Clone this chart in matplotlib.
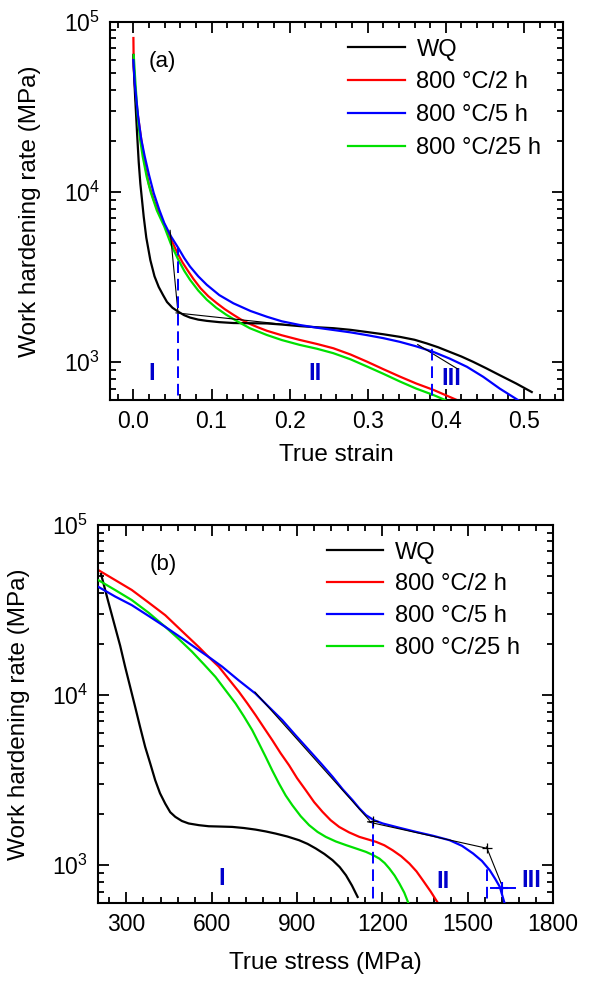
import math
import matplotlib
matplotlib.use("Agg")
import matplotlib.pyplot as plt
from matplotlib.ticker import LogLocator, MultipleLocator, FuncFormatter

plt.rcParams['font.family'] = ['Liberation Sans', 'DejaVu Sans']
plt.rcParams['mathtext.fontset'] = 'custom'
plt.rcParams['mathtext.rm'] = 'Liberation Sans'
plt.rcParams['mathtext.it'] = 'Liberation Sans:italic'
plt.rcParams['mathtext.bf'] = 'Liberation Sans:bold'

# ---------------- data: panel (a) work hardening rate vs true strain ----------------
labels = ["WQ", "800 °C/2 h", "800 °C/5 h", "800 °C/25 h"]
colors = ["#000000", "#ff0000", "#0000ff", "#00e000"]

a_wq_x = [0.000, 0.0004, 0.002, 0.0047, 0.0068, 0.0089, 0.011, 0.0132, 0.0165, 0.0217, 0.027, 0.0324,
          0.038, 0.043, 0.050, 0.0575, 0.065, 0.0725, 0.083, 0.094, 0.11, 0.128, 0.15, 0.171, 0.19,
          0.213, 0.235, 0.256, 0.278, 0.299, 0.32, 0.341, 0.36, 0.3755, 0.39, 0.405, 0.42, 0.435,
          0.452, 0.469, 0.49, 0.510]
a_wq_y = [64000, 54600, 38000, 22100, 15000, 11200, 9000, 7160, 5400, 3980, 3200, 2770,
          2480, 2260, 2090, 1980, 1890, 1830, 1780, 1750, 1720, 1700, 1695, 1690, 1665,
          1630, 1605, 1585, 1550, 1505, 1460, 1410, 1355, 1290, 1225, 1150, 1080, 1005,
          920, 839, 750, 668]

a_2h_x = [0.000, 0.0004, 0.003, 0.0089, 0.0152, 0.020, 0.026, 0.034, 0.043, 0.050, 0.0575, 0.063,
          0.069, 0.077, 0.086, 0.096, 0.107, 0.117, 0.128, 0.138, 0.149, 0.160, 0.171, 0.19, 0.213,
          0.235, 0.256, 0.278, 0.299, 0.32, 0.341, 0.362, 0.384, 0.414]
a_2h_y = [80500, 54800, 34900, 22200, 14200, 11000, 9020, 7300, 6000, 5050, 4280, 3850,
          3490, 3080, 2720, 2440, 2220, 2050, 1900, 1780, 1680, 1600, 1530, 1440, 1352,
          1280, 1208, 1110, 1008, 910, 824, 750, 688, 600]

a_5h_x = [0.000, 0.0017, 0.006, 0.010, 0.0145, 0.020, 0.026, 0.033, 0.0395, 0.048, 0.0575, 0.065,
          0.0725, 0.083, 0.094, 0.11, 0.128, 0.15, 0.171, 0.19, 0.213, 0.235, 0.256, 0.278, 0.299,
          0.32, 0.341, 0.362, 0.384, 0.405, 0.427, 0.448, 0.469, 0.496]
a_5h_y = [59700, 43700, 27900, 20500, 16200, 12600, 9870, 7900, 6580, 5500, 4690, 4100,
          3650, 3200, 2850, 2480, 2220, 2000, 1850, 1740, 1655, 1595, 1547, 1498, 1443,
          1385, 1318, 1240, 1150, 1050, 940, 820, 700, 585]

a_25h_x = [0.0004, 0.0026, 0.0055, 0.0085, 0.0119, 0.017, 0.0225, 0.030, 0.0395, 0.048, 0.0575,
           0.065, 0.0725, 0.083, 0.094, 0.106, 0.119, 0.134, 0.149, 0.171, 0.19, 0.213, 0.235,
           0.256, 0.278, 0.299, 0.32, 0.341, 0.362, 0.384, 0.399]
a_25h_y = [64000, 43700, 27900, 20500, 16200, 12300, 9870, 7800, 6280, 4950, 4000,
           3450, 3050, 2640, 2330, 2090, 1900, 1730, 1585, 1445, 1350, 1264, 1200,
           1130, 1040, 944, 855, 771, 700, 642, 600]

# tangent construction lines and stage boundaries (a)
a_tan1_x, a_tan1_y = [0.047, 0.0572], [5960, 1930]
a_tan2_x, a_tan2_y = [0.0546, 0.200], [1950, 1655]
a_tan3_x, a_tan3_y = [0.364, 0.415], [1270, 914]
a_bounds_x = [0.0575, 0.3825]
a_bounds_top = [4740, 1260]
a_stage_txt = ["I", "II", "III"]
a_stage_x = [0.0237, 0.2327, 0.4075]
a_stage_y = [857, 857, 802]

# ---------------- data: panel (b) work hardening rate vs true stress ----------------
b_wq_x = [210.6, 235, 260, 278, 295.3, 313, 330.6, 348, 365.9, 384, 401.2, 418, 436.5, 454, 471.8,
          495, 518.9, 555, 589.4, 630, 672, 713, 754, 790, 824.7, 866, 907, 937, 966, 996, 1025,
          1050, 1072, 1093, 1113]
b_wq_y = [51500, 36000, 25200, 19500, 14700, 11200, 8540, 6500, 4960, 3950, 3160, 2650, 2300, 2050,
          1925, 1820, 1760, 1720, 1695, 1688, 1680, 1655, 1620, 1580, 1535, 1475, 1403, 1335, 1254,
          1165, 1070, 975, 873, 760, 651]

b_2h_x = [201.2, 260, 318.8, 378, 436.5, 495, 554, 590, 624.7, 660, 695.3, 725, 754, 783, 813, 842,
          871.8, 900, 930.6, 960, 989.5, 1018, 1048, 1083, 1119, 1148, 1178, 1207, 1236, 1266, 1295,
          1320, 1342, 1370, 1398]
b_2h_y = [54300, 47500, 41500, 35000, 29500, 23800, 19200, 16700, 14700, 12400, 10470, 8950, 7630,
          6450, 5430, 4560, 3870, 3250, 2760, 2350, 2060, 1840, 1680, 1560, 1468, 1420, 1372, 1310,
          1225, 1130, 1023, 920, 817, 700, 590]

b_5h_x = [201.2, 260, 318.8, 378, 436.5, 495, 554, 595, 636.5, 695, 754, 800, 848, 895, 942.4, 985,
          1025, 1060, 1095.3, 1120, 1142.4, 1170, 1201.2, 1260, 1318.8, 1378, 1436.5, 1480, 1519,
          1550, 1577.7, 1597, 1613, 1630.6]
b_5h_y = [43300, 38000, 33800, 29200, 25200, 21600, 18400, 16500, 14700, 12200, 10200, 8550, 7130,
          5800, 4740, 3950, 3310, 2800, 2410, 2150, 1970, 1840, 1760, 1660, 1570, 1490, 1403, 1300,
          1172, 1060, 934, 830, 746, 590]

b_25h_x = [201.2, 260, 318.8, 378, 436.5, 485, 530.6, 572, 613, 650, 683.6, 713, 742.4, 766, 789.5,
           813, 836.5, 860, 883.6, 913, 942.4, 972, 1001, 1036, 1072, 1107, 1142.4, 1166, 1189.5,
           1208, 1224.7, 1243, 1260, 1277, 1293]
b_25h_y = [47400, 41500, 36200, 30500, 25200, 21300, 18000, 15200, 12800, 10600, 8940, 7500, 6220,
           5200, 4340, 3600, 3020, 2570, 2250, 1940, 1720, 1570, 1468, 1380, 1313, 1255, 1198, 1150,
           1094, 1030, 956, 870, 780, 690, 590]

b_tan1_x, b_tan1_y = [751.8, 1154], [10430, 1840]
b_tan2_x, b_tan2_y = [1148, 1572], [1800, 1253]
b_tan3_x, b_tan3_y = [1566, 1625], [1282, 729]
b_cross_x, b_cross_y = [1168, 1568], [1810, 1270]
b_hseg_x, b_hseg_y = [1583, 1666], [739, 739]
b_hmark_x, b_hmark_y = [1619], [739]
b_bounds_x = [1168, 1568]
b_bounds_top = [1800, 977]
b_stage_txt = ["I", "II", "III"]
b_stage_x = [636, 1413, 1725]
b_stage_y = [835, 798, 817]

a_xticks = [0.0, 0.1, 0.2, 0.3, 0.4, 0.5]
b_xticks = [300, 600, 900, 1200, 1500, 1800]

# ---------------- figure ----------------
fig = plt.figure(figsize=(5.9, 9.9), dpi=100)
axA = fig.add_axes([0.1864, 0.5960, 0.7678, 0.3818])
axB = fig.add_axes([0.1661, 0.0879, 0.7712, 0.3818])

TICK_FS = 16.5
LAB_FS = 17.5


def style_axis(ax):
    ax.set_yscale('log')
    ax.set_ylim(600, 1e5)
    for s in ax.spines.values():
        s.set_linewidth(1.5)
    ax.yaxis.set_major_locator(LogLocator(base=10, numticks=10))
    ax.yaxis.set_minor_locator(LogLocator(base=10, subs=range(2, 10), numticks=20))
    ax.yaxis.set_major_formatter(FuncFormatter(
        lambda v, p: r'$\mathregular{10^{%d}}$' % round(math.log10(v))))
    ax.tick_params(which='both', direction='in', top=True, right=True, width=1.3,
                   labelsize=TICK_FS)
    ax.tick_params(which='major', length=8, pad=7)
    ax.tick_params(which='minor', length=4.5)
    ax.set_ylabel("Work hardening rate (MPa)", fontsize=LAB_FS)


series_a = [(a_wq_x, a_wq_y), (a_2h_x, a_2h_y), (a_5h_x, a_5h_y), (a_25h_x, a_25h_y)]
series_b = [(b_wq_x, b_wq_y), (b_2h_x, b_2h_y), (b_5h_x, b_5h_y), (b_25h_x, b_25h_y)]
z_order = [3, 2, 5, 4]
STAGE_KW = dict(color='#0000cc', fontsize=17, fontweight='bold', ha='center', va='center')

# panel (a)
style_axis(axA)
for (x, y), c, l, z in zip(series_a, colors, labels, z_order):
    axA.plot(x, y, color=c, lw=1.6, label=l, zorder=z, solid_joinstyle='round')
for tx, ty in [(a_tan1_x, a_tan1_y), (a_tan2_x, a_tan2_y), (a_tan3_x, a_tan3_y)]:
    axA.plot(tx, ty, color='black', lw=0.8, zorder=6)
for bx, bt in zip(a_bounds_x, a_bounds_top):
    axA.plot([bx, bx], [500, bt], color='#0000ff', lw=1.4, ls=(0, (6, 3)), zorder=6)
for t, x, y in zip(a_stage_txt, a_stage_x, a_stage_y):
    axA.text(x, y, t, **STAGE_KW)
axA.text(0.0367, 58500, "(a)", fontsize=16, ha='center', va='center')
axA.set_xlim(-0.03, 0.55)
axA.set_xticks(a_xticks)
axA.set_xticklabels(["%.1f" % v for v in a_xticks])
axA.xaxis.set_minor_locator(MultipleLocator(0.02))
axA.set_xlabel("True strain", fontsize=LAB_FS, labelpad=8)
axA.yaxis.set_label_coords(-0.153, 0.5)
axA.legend(loc='upper left', bbox_to_anchor=(0.489, 1.0), frameon=False, fontsize=17,
           handlelength=2.4, handletextpad=0.5, labelspacing=0.46, borderaxespad=0.3)

# panel (b)
style_axis(axB)
for (x, y), c, l, z in zip(series_b, colors, labels, z_order):
    axB.plot(x, y, color=c, lw=1.6, label=l, zorder=z, solid_joinstyle='round')
for tx, ty in [(b_tan1_x, b_tan1_y), (b_tan2_x, b_tan2_y), (b_tan3_x, b_tan3_y)]:
    axB.plot(tx, ty, color='black', lw=0.8, zorder=6)
axB.plot(b_cross_x, b_cross_y, ls='none', marker='+', ms=7, mew=0.9, color='black', zorder=7)
axB.plot(b_hseg_x, b_hseg_y, color='#0000ff', lw=1.4, zorder=7)
axB.plot(b_hmark_x, b_hmark_y, ls='none', marker='+', ms=9, mew=1.5, color='#0000ff', zorder=8)
for bx, bt in zip(b_bounds_x, b_bounds_top):
    axB.plot([bx, bx], [500, bt], color='#0000ff', lw=1.4, ls=(0, (6, 3)), zorder=6)
for t, x, y in zip(b_stage_txt, b_stage_x, b_stage_y):
    axB.text(x, y, t, **STAGE_KW)
axB.text(430, 58200, "(b)", fontsize=16, ha='center', va='center')
axB.set_xlim(200, 1800)
axB.set_xticks(b_xticks)
axB.set_xticklabels([str(v) for v in b_xticks])
axB.xaxis.set_minor_locator(MultipleLocator(60))
axB.set_xlabel("True stress (MPa)", fontsize=LAB_FS, labelpad=12)
axB.yaxis.set_label_coords(-0.15, 0.5)
axB.legend(loc='upper left', bbox_to_anchor=(0.466, 1.0), frameon=False, fontsize=17,
           handlelength=2.4, handletextpad=0.5, labelspacing=0.42, borderaxespad=0.3)

fig.savefig("out.png", dpi=100)
